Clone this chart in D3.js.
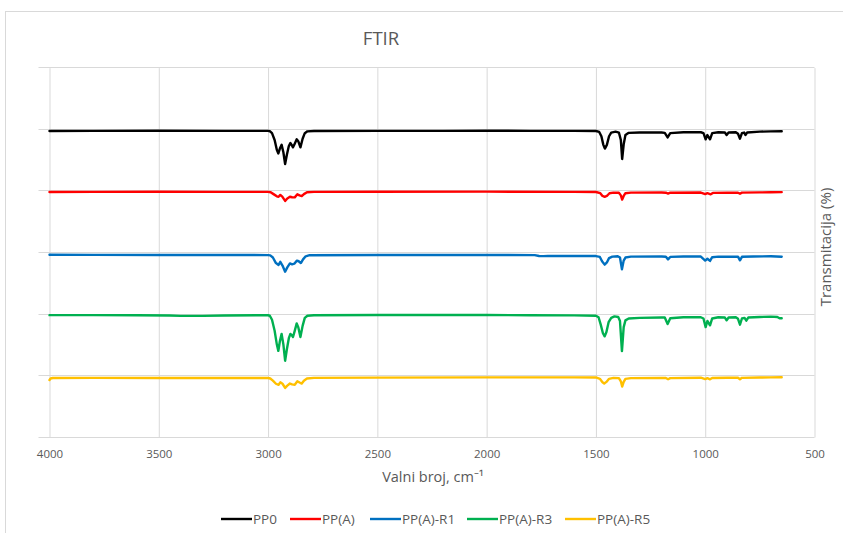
<!DOCTYPE html>
<html><head><meta charset="utf-8">
<script src="https://cdn.jsdelivr.net/npm/d3@7"></script>
<style>body{margin:0;background:#fff}svg{display:block}</style>
</head><body>
<svg id="chart" width="843" height="533"></svg>
<script>
// ---------- DATA ----------
const seriesNames = ["PP0", "PP(A)", "PP(A)-R1", "PP(A)-R3", "PP(A)-R5"];
const seriesOffsets = [400, 300, 200, 100, 0];
const xTickValues = [4000, 3500, 3000, 2500, 2000, 1500, 1000, 500];
const yGridValues = [0, 100, 200, 300, 400, 500, 600];
const chartTitle = "FTIR";
const xAxisTitle = "Valni broj, cm⁻¹";
const yAxisTitle = "Transmitacija (%)";

// [wavenumber cm-1, transmittance %]
const pp0 = [
  [4000,96.5],[3800,96.8],[3500,96.9],[3200,96.8],[3000,96.7],[2992,96.2],[2982,93],[2970,82],[2960,66],
  [2953,60],[2946,68],[2938,74],[2930,62],[2922,43],[2914,58],[2905,72],[2898,77],[2892,74],[2886,70],
  [2878,76],[2869,83],[2862,80],[2852,70],[2842,84],[2832,93],[2820,96],[2790,96.6],[2500,96.8],
  [2200,96.8],[2000,97],[1800,96.8],[1600,96.8],[1500,96.5],[1485,95],[1475,88],[1466,74],[1459,68],
  [1450,74],[1440,88],[1430,94],[1410,95.5],[1395,94],[1386,82],[1380,51],[1373,75],[1365,90],[1350,93.5],
  [1300,94],[1200,94],[1185,93.5],[1172,86],[1160,93],[1100,94.5],[1020,94.5],[1008,93],[998,83],[990,90],
  [978,83],[968,93],[940,94.5],[910,94],[902,90],[893,94],[860,94.5],[850,92],[841,84],[832,93],
  [822,94],[816,90],[808,94],[750,95.5],[700,96],[650,96.2]
];
const ppA = [
  [4000,97.5],[3800,97.7],[3500,97.8],[3200,97.7],[3000,97.7],[2988,97],[2975,94],[2960,90.5],[2952,89.7],
  [2944,92.7],[2935,90],[2922,83],[2912,87],[2900,89.7],[2890,89],[2878,88.7],[2866,93.7],[2856,92],
  [2846,90.7],[2836,94],[2822,97],[2790,97.6],[2500,97.8],[2000,98],[1600,97.7],[1500,97.5],[1480,95.5],
  [1470,91],[1460,89.7],[1450,91],[1438,95.5],[1420,96.5],[1395,96.2],[1386,92],[1380,85.2],[1373,91],
  [1365,95.5],[1340,96.5],[1200,96.6],[1180,96.3],[1170,95],[1160,96.3],[1020,96.6],[1000,94],[990,95.5],
  [975,93.7],[965,96],[900,96.3],[850,96.2],[841,94.7],[832,96.4],[750,96.8],[700,97],[650,97.3]
];
const ppAR1 = [
  [4000,95.5],[3800,95.3],[3500,95.2],[3200,95.2],[3000,95],[2990,94.5],[2978,91],[2964,82],[2952,79],
  [2944,84],[2934,78],[2922,68],[2912,75],[2900,81.5],[2890,80],[2880,81],[2868,86],[2860,85],[2850,82],
  [2840,88],[2828,93],[2810,94.8],[2500,95.2],[2000,95.2],[1780,95],[1760,93.5],[1740,93.3],[1720,93.5],
  [1600,93.6],[1500,93.4],[1482,92],[1472,85],[1460,79.5],[1450,83],[1440,90],[1425,92.5],[1400,93],
  [1390,91],[1381,72],[1373,86],[1365,91],[1340,92.5],[1200,92.6],[1180,92.2],[1170,88],[1160,92],
  [1100,92.8],[1020,92.6],[1000,86],[990,89],[978,85.5],[968,91.5],[940,92.5],[900,92.3],[850,92.4],
  [841,86.5],[832,92.2],[780,92.8],[700,93],[650,92.2]
];
const ppAR3 = [
  [4000,97.4],[3800,97.4],[3600,97.2],[3450,96.8],[3400,96.2],[3300,96.3],[3200,96.9],[3000,97.3],
  [2992,96.5],[2982,90],[2970,72],[2960,50],[2953,39.4],[2946,55],[2938,67],[2930,50],[2922,23.4],
  [2914,42],[2905,60],[2898,67],[2892,65],[2886,62],[2878,72],[2869,84],[2862,78],[2852,62],[2842,80],
  [2832,93],[2820,96.5],[2790,97.2],[2500,97.6],[2000,97.6],[1800,97.3],[1600,97],[1500,96.5],[1488,94],
  [1478,82],[1468,68],[1460,63],[1452,70],[1442,86],[1430,93],[1415,95.5],[1398,94.5],[1390,88],
  [1381,39],[1373,78],[1365,89],[1350,92],[1300,93],[1200,93.5],[1185,93.5],[1172,83],[1160,92.5],
  [1100,94],[1020,94],[1008,92],[998,78],[990,88],[978,81],[968,92],[940,94],[910,93.5],[902,89],
  [893,93.5],[860,94],[850,91.5],[841,82],[832,92],[820,93],[812,88.5],[803,93.5],[750,94.5],
  [700,95],[670,94.5],[660,92.5],[650,92.5]
];
const ppAR5 = [
  [4000,92],[3995,94.5],[3985,95.3],[3800,95.5],[3500,95.3],[3200,95.4],[3000,95.3],[2990,94.5],
  [2978,91],[2964,86],[2952,84.3],[2944,88.3],[2934,86],[2922,79.3],[2912,83],[2900,86.3],[2890,85],
  [2878,84.3],[2866,90],[2856,88],[2846,86.3],[2836,91],[2822,94.5],[2790,95.5],[2500,96],[2000,96.3],
  [1600,96.3],[1500,96.2],[1482,94],[1470,88.5],[1462,86.4],[1452,89],[1440,94],[1420,95.5],[1395,95.2],
  [1386,90],[1380,81.4],[1373,89],[1365,94],[1340,95.2],[1200,95.5],[1180,95.3],[1170,93.4],[1160,95.2],
  [1020,95.8],[1000,93.5],[990,95],[978,93.2],[968,95.3],[900,95.8],[850,95.7],[841,93.3],[832,95.6],
  [750,96.2],[700,96.3],[650,96.5]
];
const seriesData = [pp0, ppA, ppAR1, ppAR3, ppAR5];
const seriesColors = ["#000000", "#FF0000", "#0070C0", "#00B050", "#FFC000"];

// ---------- DRAW ----------
const svg = d3.select("#chart");
const font = "'Open Sans', 'Noto Sans', sans-serif";
const textColor = "#595959";
const gridColor = "#d9d9d9";

svg.append("rect").attr("x", 0).attr("y", 0).attr("width", 843).attr("height", 533).attr("fill", "#fff");
svg.append("rect").attr("x", 5.5).attr("y", 11.5).attr("width", 850).attr("height", 540)
  .attr("fill", "none").attr("stroke", gridColor).attr("stroke-width", 1);

const x = d3.scaleLinear().domain([4000, 500]).range([49.5, 814.5]);
const y = d3.scaleLinear().domain([0, 600]).range([436.7, 67.3]);
const plotLeft = 38.5, plotRight = 814.5;

// horizontal gridlines
svg.append("g").selectAll("line").data(yGridValues).join("line")
  .attr("x1", plotLeft).attr("x2", plotRight)
  .attr("y1", d => Math.round(y(d)) + 0.5).attr("y2", d => Math.round(y(d)) + 0.5)
  .attr("stroke", gridColor).attr("stroke-width", 1);

// x axis (vertical gridlines + labels)
const xAxis = d3.axisBottom(x).tickValues(xTickValues).tickFormat(d3.format("d"))
  .tickSize(-(y(0) - y(600))).tickPadding(12);
const gx = svg.append("g").attr("transform", `translate(0,${Math.round(y(0)) + 0.5})`).call(xAxis);
gx.select(".domain").remove();
gx.selectAll(".tick line").attr("stroke", gridColor).attr("stroke-width", 1);
gx.selectAll(".tick text").attr("fill", textColor).attr("font-family", font).attr("font-size", 11.5);

// spectra
const line = d3.line().x(d => x(d[0])).y(d => y(d[1]));
seriesData.forEach((s, i) => {
  svg.append("path")
    .attr("d", line(s.map(p => [p[0], p[1] + seriesOffsets[i]])))
    .attr("fill", "none").attr("stroke", seriesColors[i]).attr("stroke-width", 2.4)
    .attr("stroke-linejoin", "round").attr("stroke-linecap", "round");
});

// title
svg.append("text").attr("x", 381).attr("y", 45).attr("text-anchor", "middle")
  .attr("font-family", font).attr("font-size", 18.5).attr("fill", textColor).text(chartTitle);

// axis titles
svg.append("text").attr("x", 433).attr("y", 482).attr("text-anchor", "middle")
  .attr("font-family", font).attr("font-size", 14.5).attr("fill", textColor).text(xAxisTitle);
svg.append("text").attr("transform", "translate(831,247) rotate(-90)").attr("text-anchor", "middle")
  .attr("font-family", font).attr("font-size", 15).attr("fill", textColor).text(yAxisTitle);

// legend
const legendX = [221, 290, 370, 467, 565];
const lg = svg.append("g");
seriesNames.forEach((n, i) => {
  lg.append("line").attr("x1", legendX[i]).attr("x2", legendX[i] + 31)
    .attr("y1", 519).attr("y2", 519).attr("stroke", seriesColors[i]).attr("stroke-width", 2.4);
  lg.append("text").attr("x", legendX[i] + 32).attr("y", 523.5).attr("font-family", font)
    .attr("font-size", 13.5).attr("fill", textColor).text(n);
});
</script>
</body></html>
